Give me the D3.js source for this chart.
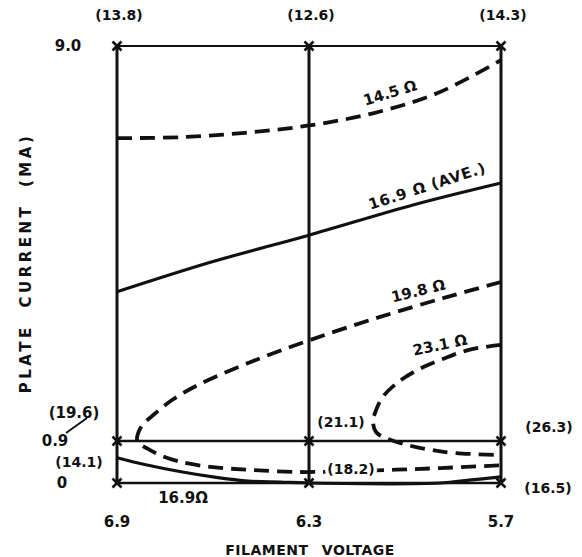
<!DOCTYPE html>
<html>
<head>
<meta charset="utf-8">
<script src="https://cdn.jsdelivr.net/npm/d3@7"></script>
<style>
  body { margin: 0; background: #fff; }
  svg text { font-family: "DejaVu Sans", sans-serif; font-weight: bold; fill: #111; }
</style>
</head>
<body>
<div id="chart"></div>
<script>
  // tick values on both axes
  var voltTicks = [6.9, 6.3, 5.7];
  var currentTicks = [9.0, 0.9, 0];
  var voltLabels = ["6.9", "6.3", "5.7"];
  var currentLabels = ["9.0", "0.9", "0"];

  // resistance readings at the grid corners
  var topValues = ["(13.8)", "(12.6)", "(14.3)"];

  // curves of constant resistance, [filament voltage, plate current]
  var curve145 = [[6.9, 7.11], [6.7, 7.13], [6.5, 7.22], [6.3, 7.37], [6.1, 7.62], [5.9, 8.03], [5.7, 8.71]];
  var curve169ave = [[6.9, 3.96], [6.6, 4.58], [6.3, 5.12], [5.975, 5.74], [5.7, 6.19]];
  var curve198 = [[5.7, 4.16], [5.87, 3.85], [6.08, 3.44], [6.297, 2.97], [6.49, 2.5], [6.647, 2.05],
                  [6.728, 1.74], [6.78, 1.47], [6.82, 1.23], [6.834, 1.06], [6.8375, 0.94],
                  [6.828, 0.836], [6.803, 0.73], [6.766, 0.6], [6.7, 0.45], [6.6, 0.34],
                  [6.48, 0.28], [6.33, 0.236], [6.2, 0.25], [6.05, 0.28], [5.89, 0.32], [5.7, 0.38]];
  var curve231 = [[5.7, 2.87], [5.8, 2.77], [5.89, 2.56], [5.96, 2.36], [6.025, 2.09], [6.07, 1.8],
                  [6.09, 1.54], [6.1, 1.29], [6.09, 1.08], [6.06, 0.96], [5.99, 0.81], [5.92, 0.71],
                  [5.84, 0.64], [5.7, 0.6]];
  var curve169low = [[6.9, 0.54], [6.81, 0.39], [6.7, 0.24], [6.6, 0.13], [6.49, 0.04], [6.39, 0.02],
                     [6.3, 0.0], [5.89, 0.0], [5.8, 0.06], [5.7, 0.13]];

  var width = 582, height = 557;

  var svg = d3.select("#chart").append("svg")
      .attr("width", width)
      .attr("height", height);

  // the current axis is broken: 0..0.9 gets its own strip
  var x = d3.scaleLinear().domain([6.9, 5.7]).range([117, 501]);
  var y = d3.scaleLinear().domain([0, 0.9, 9.0]).range([483, 441, 46]);

  // vertical grid lines
  svg.selectAll("line.v")
    .data(voltTicks).enter().append("line")
      .attr("x1", function (d) { return x(d); })
      .attr("x2", function (d) { return x(d); })
      .attr("y1", y(0))
      .attr("y2", y(9.0))
      .attr("stroke", "#111")
      .attr("stroke-width", 3);

  // horizontal grid lines
  svg.selectAll("line.h")
    .data(currentTicks).enter().append("line")
      .attr("x1", x(6.9))
      .attr("x2", x(5.7))
      .attr("y1", function (d) { return y(d); })
      .attr("y2", function (d) { return y(d); })
      .attr("stroke", "#111")
      .attr("stroke-width", function (d) { return d === 9.0 ? 1.8 : 2.4; });

  var line = d3.line()
      .x(function (d) { return x(d[0]); })
      .y(function (d) { return y(d[1]); })
      .curve(d3.curveCatmullRom.alpha(0.5));

  function drawCurve(data, dashed) {
    svg.append("path")
        .datum(data)
        .attr("d", line)
        .attr("fill", "none")
        .attr("stroke", "#111")
        .attr("stroke-width", dashed ? 3.8 : 3.2)
        .attr("stroke-dasharray", dashed ? "15,8" : null);
  }

  drawCurve(curve145, true);
  drawCurve(curve169ave, false);
  drawCurve(curve198, true);
  drawCurve(curve231, true);
  drawCurve(curve169low, false);

  // x markers on every grid crossing
  var corners = [];
  voltTicks.forEach(function (v) {
    currentTicks.forEach(function (c) { corners.push([v, c]); });
  });
  svg.selectAll("path.mark")
    .data(corners).enter().append("path")
      .attr("d", function (d) {
        var cx = x(d[0]), cy = y(d[1]), r = 4.5;
        return "M" + (cx - r) + "," + (cy - r) + "L" + (cx + r) + "," + (cy + r) +
               "M" + (cx + r) + "," + (cy - r) + "L" + (cx - r) + "," + (cy + r);
      })
      .attr("stroke", "#111")
      .attr("stroke-width", 2.6);

  // voltage tick labels
  svg.selectAll("text.xt")
    .data(voltTicks).enter().append("text")
      .attr("x", function (d) { return x(d); })
      .attr("y", 527)
      .attr("text-anchor", "middle")
      .style("font-size", "15px")
      .text(function (d, i) { return voltLabels[i]; });

  // current tick labels
  var yLabelX = [68, 55, 62];
  svg.selectAll("text.yt")
    .data(currentTicks).enter().append("text")
      .attr("x", function (d, i) { return yLabelX[i]; })
      .attr("y", function (d) { return y(d) + 5; })
      .attr("text-anchor", "middle")
      .style("font-size", "15px")
      .text(function (d, i) { return currentLabels[i]; });

  // readings along the top
  svg.selectAll("text.top")
    .data(voltTicks).enter().append("text")
      .attr("x", function (d) { return x(d) + 2; })
      .attr("y", 20)
      .attr("text-anchor", "middle")
      .style("font-size", "14px")
      .text(function (d, i) { return topValues[i]; });

  function note(txt, px, py, rot, size, halo) {
    var t = svg.append("text")
        .attr("transform", "translate(" + px + "," + py + ") rotate(" + (rot || 0) + ")")
        .attr("text-anchor", "middle")
        .attr("dy", "0.35em")
        .style("font-size", (size || 14) + "px")
        .text(txt);
    if (halo) {
      t.style("stroke", "#fff").style("stroke-width", "7px")
       .style("paint-order", "stroke").style("stroke-linejoin", "round");
    }
    return t;
  }

  // other readings
  note("(19.6)", 74, 413, 0, 15);
  note("(14.1)", 79, 462);
  note("(21.1)", 341, 422);
  note("(18.2)", 351, 469, 0, 14, true);
  note("(26.3)", 549, 427);
  note("(16.5)", 548, 488);
  note("16.9\u03A9", 183, 498, 0, 15);

  // leader from 0.9 up to (19.6)
  svg.append("line")
      .attr("x1", 66).attr("y1", y(0.9) - 8)
      .attr("x2", 87).attr("y2", 418)
      .attr("stroke", "#111").attr("stroke-width", 2);

  // curve names
  note("14.5 \u03A9", x(6.047), y(8.04), -17, 15);
  note("16.9 \u03A9 (AVE.)", x(5.931), y(6.13), -18, 15).style("letter-spacing", "0.8px");
  note("19.8 \u03A9", x(5.959), y(3.98), -14, 15);
  note("23.1 \u03A9", x(5.891), y(2.87), -12, 15);

  // axis titles
  svg.append("text")
      .attr("x", 310)
      .attr("y", 555)
      .attr("text-anchor", "middle")
      .style("font-size", "14px")
      .style("letter-spacing", "0.5px")
      .style("word-spacing", "8px")
      .text("FILAMENT VOLTAGE");

  svg.append("text")
      .attr("transform", "translate(31,263) rotate(-90)")
      .attr("text-anchor", "middle")
      .style("font-size", "15px")
      .style("letter-spacing", "3.5px")
      .style("word-spacing", "8px")
      .text("PLATE CURRENT (MA)");
</script>
</body>
</html>
